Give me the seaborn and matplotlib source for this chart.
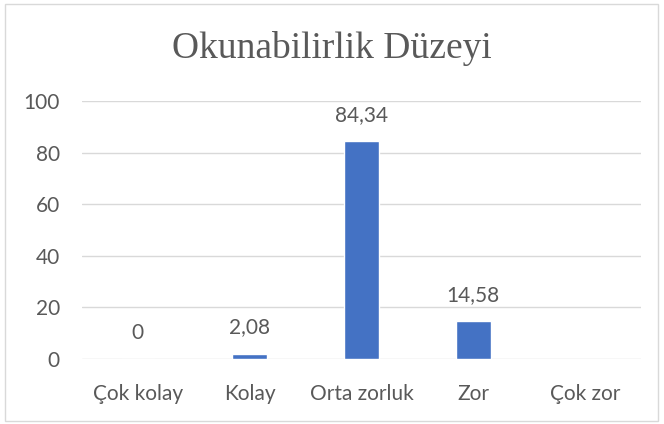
import matplotlib
matplotlib.use("Agg")
import matplotlib.pyplot as plt
import seaborn as sns
import numpy as np
import pandas as pd
from matplotlib.patches import Rectangle

categories = ["Çok kolay", "Kolay", "Orta zorluk", "Zor", "Çok zor"]
values = [0, 2.08, 84.34, 14.58, np.nan]
yticks = [0, 20, 40, 60, 80, 100]
title = "Okunabilirlik Düzeyi"

sns.set_theme(style="white")
plt.rcParams['font.family'] = ['Lato', 'DejaVu Sans']
text_color = "#595959"
bar_color = "#4472C4"

df = pd.DataFrame({"cat": categories, "val": values})

fig = plt.figure(figsize=(6.64, 4.24), dpi=100)
ax = fig.add_axes([82/664, 1 - 359/424, (641-82)/664, (359-101)/424])

sns.barplot(data=df, x="cat", y="val", color=bar_color, width=0.31, ax=ax,
            saturation=1, order=categories)

ax.set_ylim(0, 100)
ax.set_xlim(-0.5, len(categories) - 0.5)
ax.set_yticks(yticks)
ax.set_yticklabels([str(t) for t in yticks])
ax.grid(axis="y", color="#d9d9d9", linewidth=1)
ax.set_axisbelow(True)
for s in ax.spines.values():
    s.set_visible(False)
ax.tick_params(axis="both", length=0, colors=text_color, labelsize=15)
ax.tick_params(axis="y", pad=16)
ax.tick_params(axis="x", pad=18)
ax.set_xlabel("")
ax.set_ylabel("")

for i, v in enumerate(values):
    if not np.isnan(v):
        if v == int(v):
            lbl = str(int(v))
        else:
            lbl = f"{v:.2f}".replace(".", ",")
        ax.annotate(lbl, (i, v), xytext=(0, 19), textcoords="offset points",
                    ha="center", va="center", color=text_color, fontsize=15)

fig.text(332/664, 1 - 49/424, title, ha="center", va="center",
         fontsize=27, color=text_color, family=["Liberation Serif", "DejaVu Serif"])

fig.patches.append(Rectangle((5/664, 3/424), 653/664, 417/424, transform=fig.transFigure,
                             fill=False, edgecolor="#d9d9d9", linewidth=1))

fig.savefig("out.png", dpi=100, facecolor="white")
